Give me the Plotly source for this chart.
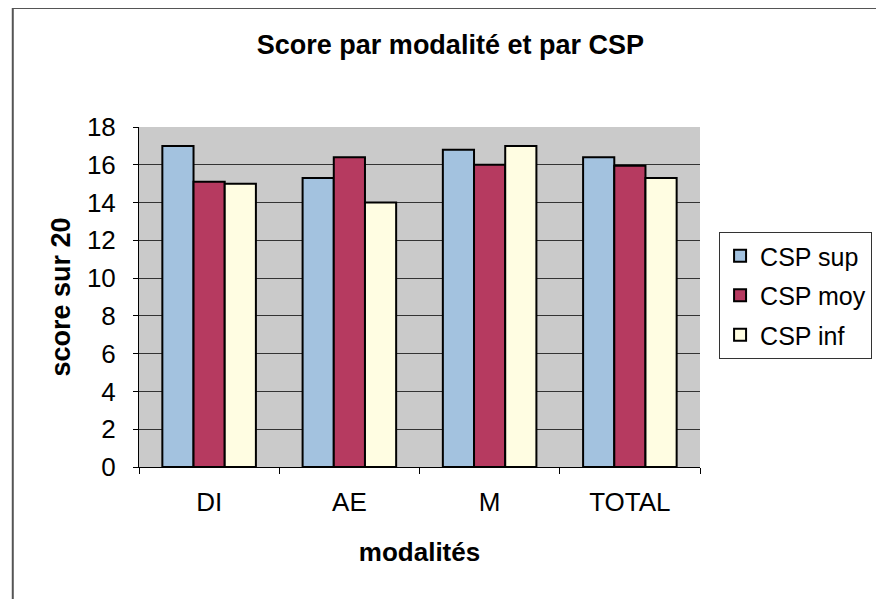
import plotly.graph_objects as go

categories = ['DI', 'AE', 'M', 'TOTAL']
csp_sup = [17.0, 15.3, 16.8, 16.4]
csp_moy = [15.1, 16.4, 16.0, 15.95]
csp_inf = [15.0, 14.0, 17.0, 15.3]

series = [
    ('CSP sup', csp_sup, '#a3c2df'),
    ('CSP moy', csp_moy, '#b63a60'),
    ('CSP inf', csp_inf, '#fffde2'),
]

fig = go.Figure()
for name, vals, color in series:
    fig.add_trace(go.Bar(
        x=categories,
        y=vals,
        name=name,
        legendgroup=name,
        marker=dict(color=color, line=dict(color='black', width=2)),
    ))

fig.update_layout(
    width=876,
    height=591,
    barmode='group',
    bargap=0.333,
    bargroupgap=0,
    paper_bgcolor='white',
    plot_bgcolor='#cacaca',
    font=dict(family='Liberation Sans, Arial, sans-serif', size=26, color='black'),
    title=dict(text='<b>Score par modalité et par CSP</b>', x=0.505, xanchor='center',
               y=0.939, yanchor='middle', font=dict(size=27)),
    margin=dict(l=131, r=181, t=119, b=132),
    legend=dict(
        x=1.034, xanchor='left', y=0.691, yanchor='top',
        bordercolor='#333333', borderwidth=1, bgcolor='white',
        font=dict(size=25), tracegroupgap=4, itemwidth=30,
    ),
    xaxis=dict(
        tickson='boundaries', ticks='outside', ticklen=6, tickcolor='black',
        ticklabelstandoff=12,
        showline=True, linecolor='black', linewidth=1,
        showgrid=False,
        title=dict(text='<b>modalités</b>', font=dict(size=26), standoff=26),
    ),
    yaxis=dict(
        range=[0, 18], dtick=2, ticks='outside', ticklen=5, tickcolor='black',
        ticklabelstandoff=12,
        showline=True, linecolor='black', linewidth=1,
        showgrid=True, gridcolor='#333333', gridwidth=1,
        zeroline=False,
        title=dict(text='<b>score sur 20</b>', font=dict(size=27), standoff=8),
    ),
    shapes=[dict(type='rect', xref='paper', yref='paper', x0=-0.225, x1=1.4,
                 y0=-0.45, y1=1.35, line=dict(color='#555555', width=2))],
)

fig.write_html('out.html')
